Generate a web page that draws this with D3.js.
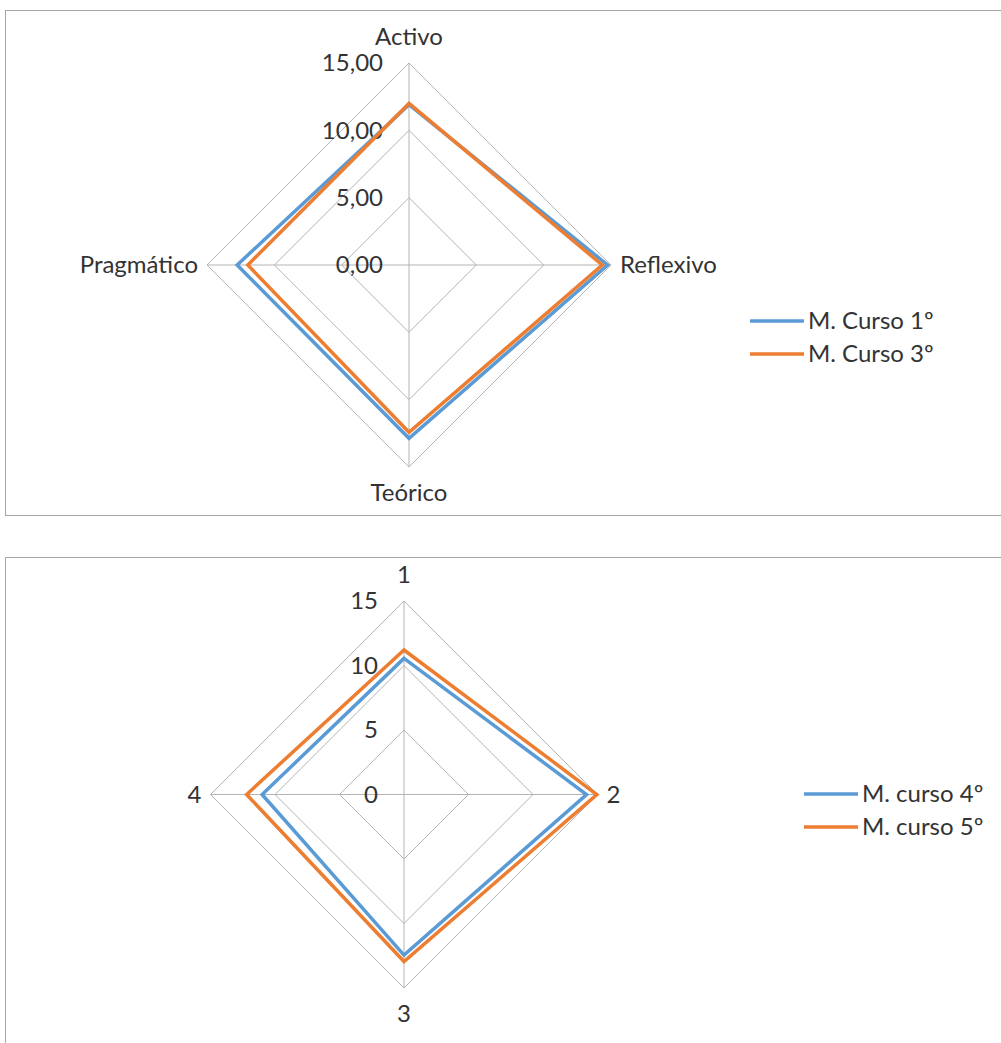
<!DOCTYPE html>
<meta charset="utf-8">
<style>
    body { margin: 0; background: #fff; }
    text { font-family: Lato, "Open Sans", sans-serif; fill: #333; }
    .grid { fill: none; stroke: #b4b4b4; stroke-width: 1px; }
    .spoke { stroke: #b4b4b4; stroke-width: 1px; }
    .serie { fill: none; stroke-width: 3.5px; stroke-linejoin: miter; }
    .frame { fill: #fff; stroke: #a6a6a6; stroke-width: 1px; }
</style>
<body>
<script src="https://d3js.org/d3.v7.min.js"></script>
<script>
    // --- chart 1 data
    var ejes1 = ["Activo", "Reflexivo", "Teórico", "Pragmático"];
    var ticks1 = ["0,00", "5,00", "10,00", "15,00"];
    var curso1 = [11.9, 14.75, 12.87, 12.76];
    var curso3 = [12.0, 14.35, 12.42, 11.97];
    var nombres1 = ["M. Curso 1º", "M. Curso 3º"];

    // --- chart 2 data
    var ejes2 = ["1", "2", "3", "4"];
    var ticks2 = ["0", "5", "10", "15"];
    var curso4 = [10.55, 14.15, 12.45, 11.0];
    var curso5 = [11.2, 14.95, 12.95, 12.2];
    var nombres2 = ["M. curso 4º", "M. curso 5º"];

    var tickVals = [0, 5, 10, 15];
    var colores = ["#5b9bd5", "#ed7d31"];
    var fs = "24px";

    var svg = d3.select("body").append("svg")
        .attr("width", 1001)
        .attr("height", 1043);

    // chart frames
    svg.append("rect").attr("class", "frame")
        .attr("x", 5.5).attr("y", 10.5).attr("width", 1000).attr("height", 505);
    svg.append("rect").attr("class", "frame")
        .attr("x", 5.5).attr("y", 557.5).attr("width", 1000).attr("height", 500);

    function radar(cfg) {
        var g = svg.append("g")
            .attr("transform", "translate(" + cfg.cx + "," + cfg.cy + ")");

        var r = d3.scaleLinear().domain([0, 15]).range([0, cfg.radius]);
        var ang = d3.scalePoint().domain(cfg.ejes).range([0, 2 * Math.PI * 3 / 4]);
        // angle measured clockwise from top
        function pt(eje, v) {
            var a = ang(eje);
            return [Math.sin(a) * r(v), -Math.cos(a) * r(v)];
        }

        var line = d3.line().curve(d3.curveLinearClosed);

        // rings
        g.selectAll(".grid")
            .data(tickVals.slice(1))
            .enter().append("path")
            .attr("class", "grid")
            .attr("d", function (t) {
                return line(cfg.ejes.map(function (e) { return pt(e, t); }));
            });

        // spokes
        g.selectAll(".spoke")
            .data(cfg.ejes)
            .enter().append("line")
            .attr("class", "spoke")
            .attr("x1", 0).attr("y1", 0)
            .attr("x2", function (e) { return pt(e, 15)[0]; })
            .attr("y2", function (e) { return pt(e, 15)[1]; });

        // tick labels
        g.selectAll(".tick")
            .data(tickVals)
            .enter().append("text")
            .attr("x", -26)
            .attr("y", function (t) { return -r(t); })
            .attr("dy", "0.35em")
            .attr("text-anchor", "end")
            .style("font-size", fs)
            .text(function (t, i) { return cfg.ticks[i]; });

        // series
        cfg.series.forEach(function (s, i) {
            g.append("path")
                .datum(s)
                .attr("class", "serie")
                .style("stroke", colores[i])
                .attr("d", function (d) {
                    return line(cfg.ejes.map(function (e, j) { return pt(e, d[j]); }));
                });
        });

        // axis labels
        g.selectAll(".eje")
            .data(cfg.ejes)
            .enter().append("text")
            .style("font-size", fs)
            .attr("x", function (e) {
                var p = pt(e, 15);
                return Math.abs(p[0]) < 1 ? 0 : p[0] + Math.sign(p[0]) * 9;
            })
            .attr("y", function (e) {
                var p = pt(e, 15);
                if (Math.abs(p[1]) < 1) return 0;
                return p[1] + Math.sign(p[1]) * 26;
            })
            .attr("dy", "0.35em")
            .attr("text-anchor", function (e) {
                var p = pt(e, 15);
                if (Math.abs(p[0]) < 1) return "middle";
                return p[0] > 0 ? "start" : "end";
            })
            .text(function (e) { return e; });

        // legend
        var leg = svg.append("g")
            .attr("transform", "translate(" + cfg.legX + "," + cfg.legY + ")");
        cfg.nombres.forEach(function (n, i) {
            leg.append("line")
                .attr("x1", 0).attr("x2", 54)
                .attr("y1", i * 33).attr("y2", i * 33)
                .style("stroke", colores[i])
                .style("stroke-width", "3.5px");
            leg.append("text")
                .attr("x", 58)
                .attr("y", i * 33)
                .attr("dy", "0.35em")
                .style("font-size", fs)
                .text(n);
        });
    }

    radar({
        cx: 409, cy: 265, radius: 202,
        ejes: ejes1, ticks: ticks1,
        series: [curso1, curso3], nombres: nombres1,
        legX: 750, legY: 321
    });

    radar({
        cx: 404, cy: 794.5, radius: 193.5,
        ejes: ejes2, ticks: ticks2,
        series: [curso4, curso5], nombres: nombres2,
        legX: 804, legY: 794
    });
</script>
</body>
